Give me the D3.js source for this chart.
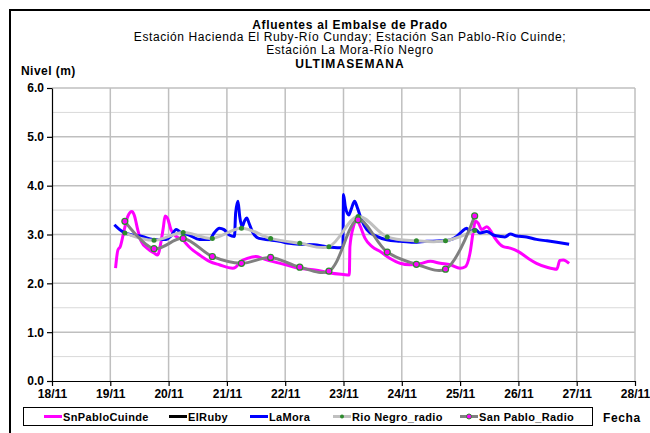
<!DOCTYPE html>
<html>
<head>
<meta charset="utf-8">
<script src="https://cdn.jsdelivr.net/npm/d3@7"></script>
<style>
  body { margin: 0; background: #fff; }
  text { font-family: "Liberation Sans", Arial, sans-serif; }
</style>
</head>
<body>
<script>
// data: x = day of November (decimal), y = level (m)
var dayTicks = [18, 19, 20, 21, 22, 23, 24, 25, 26, 27, 28];
var levelTicks = [0, 1, 2, 3, 4, 5, 6];

var snPabloCuinde = [
  [19.09,2.31],[19.13,2.68],[19.17,2.75],[19.24,3.10],[19.30,3.37],[19.37,3.47],[19.41,3.40],
  [19.47,3.10],[19.53,2.86],[19.65,2.70],[19.75,2.62],[19.81,2.58],[19.87,2.85],[19.91,3.15],
  [19.94,3.38],[19.98,3.34],[20.04,3.10],[20.13,2.96],[20.24,2.89],[20.35,2.75],[20.53,2.58],
  [20.70,2.45],[20.87,2.38],[21.10,2.31],[21.15,2.33],[21.24,2.45],[21.35,2.51],[21.50,2.55],
  [21.61,2.51],[21.78,2.45],[22.01,2.38],[22.24,2.31],[22.54,2.27],[22.77,2.21],[23.00,2.18],
  [23.10,2.17],[23.11,2.75],[23.17,3.16],[23.23,3.30],[23.29,3.16],[23.37,2.92],[23.49,2.75],
  [23.63,2.65],[23.80,2.51],[23.97,2.41],[24.14,2.38],[24.31,2.40],[24.49,2.45],[24.66,2.41],
  [24.83,2.38],[25.00,2.31],[25.09,2.34],[25.17,2.62],[25.23,3.10],[25.26,3.27],[25.31,3.23],
  [25.37,3.10],[25.46,3.16],[25.51,3.10],[25.60,2.92],[25.74,2.75],[25.86,2.72],[26.00,2.65],
  [26.17,2.51],[26.31,2.41],[26.49,2.33],[26.66,2.29],[26.71,2.47],[26.77,2.48],[26.87,2.41]
];
var elRuby = [];
var laMora = [
  [19.07,3.20],[19.15,3.11],[19.24,3.04],[19.38,2.99],[19.55,2.96],[19.73,2.90],[19.95,2.90],
  [20.05,2.98],[20.13,3.10],[20.21,3.04],[20.35,2.99],[20.53,2.90],[20.70,2.90],[20.78,3.03],
  [20.87,3.13],[20.95,3.10],[21.04,2.99],[21.13,2.96],[21.15,3.44],[21.19,3.68],[21.22,3.37],
  [21.26,3.16],[21.30,3.27],[21.34,3.34],[21.38,3.23],[21.44,3.05],[21.55,2.92],[21.73,2.89],
  [21.90,2.86],[22.07,2.82],[22.26,2.80],[22.49,2.79],[22.71,2.75],[22.94,2.73],[22.99,2.74],
  [23.00,3.82],[23.03,3.58],[23.09,3.40],[23.13,3.51],[23.19,3.68],[23.24,3.54],[23.31,3.30],
  [23.40,3.10],[23.57,2.96],[23.74,2.89],[23.97,2.86],[24.20,2.84],[24.43,2.86],[24.66,2.87],
  [24.83,2.89],[24.94,2.96],[25.03,3.06],[25.11,3.13],[25.17,3.06],[25.26,3.10],[25.34,3.03],
  [25.46,3.06],[25.57,2.99],[25.69,2.96],[25.77,2.95],[25.86,3.01],[25.97,2.97],[26.14,2.95],
  [26.31,2.90],[26.49,2.87],[26.66,2.84],[26.87,2.80]
];
var radioDays = [19.25, 19.75, 20.25, 20.75, 21.25, 21.75, 22.25, 22.75, 23.25, 23.75, 24.25, 24.75, 25.25];
var rioNegroRadio = [3.03, 2.88, 3.04, 2.92, 3.13, 2.92, 2.82, 2.75, 3.37, 2.95, 2.87, 2.87, 3.08];
var sanPabloRadio = [3.27, 2.71, 2.92, 2.55, 2.41, 2.53, 2.33, 2.25, 3.30, 2.64, 2.39, 2.29, 3.38];

var legendNames = ['SnPabloCuinde', 'ElRuby', 'LaMora', 'Rio Negro_radio', 'San Pablo_Radio'];

var width = 650, height = 433;
var plot = {left: 52, right: 635, top: 88, bottom: 381};

var svg = d3.select('body').append('svg')
  .attr('width', width)
  .attr('height', height);

svg.append('rect').attr('width', width).attr('height', height).attr('fill', '#fff');

// outer frame
svg.append('rect')
  .attr('x', 10).attr('y', 10)
  .attr('width', 700).attr('height', 500)
  .attr('fill', 'none').attr('stroke', '#000').attr('stroke-width', 2);

var x = d3.scaleLinear().domain([18, 28]).range([plot.left, plot.right]);
var y = d3.scaleLinear().domain([0, 6]).range([plot.bottom, plot.top]);

// gridlines
var minor = d3.range(0.5, 6, 1);
svg.append('g').selectAll('line').data(minor)
  .enter().append('line')
  .attr('x1', plot.left).attr('x2', plot.right)
  .attr('y1', function(d){ return y(d); }).attr('y2', function(d){ return y(d); })
  .attr('stroke', '#d9d9d9').attr('stroke-width', 1);
svg.append('g').selectAll('line').data(levelTicks.slice(1))
  .enter().append('line')
  .attr('x1', plot.left).attr('x2', plot.right)
  .attr('y1', function(d){ return y(d); }).attr('y2', function(d){ return y(d); })
  .attr('stroke', '#bfbfbf').attr('stroke-width', 1.5);
svg.append('g').selectAll('line').data(dayTicks.slice(1))
  .enter().append('line')
  .attr('x1', function(d){ return x(d); }).attr('x2', function(d){ return x(d); })
  .attr('y1', plot.top).attr('y2', plot.bottom)
  .attr('stroke', '#bfbfbf').attr('stroke-width', 1.5);

// axes
var yAxis = svg.append('g')
  .attr('transform', 'translate(' + plot.left + ',0)')
  .call(d3.axisLeft(y).tickValues(levelTicks).tickFormat(d3.format('.1f')).tickSize(5).tickSizeOuter(0));
var xAxis = svg.append('g')
  .attr('transform', 'translate(0,' + plot.bottom + ')')
  .call(d3.axisBottom(x).tickValues(dayTicks).tickFormat(function(d){ return d + '/11'; }).tickSize(5).tickSizeOuter(0));
[yAxis, xAxis].forEach(function(a){
  a.selectAll('text').attr('font-size', 12).attr('font-weight', 'bold')
    .attr('font-family', '"Liberation Sans", Arial, sans-serif').attr('fill', '#000');
  a.selectAll('line, path').attr('stroke', '#000').attr('stroke-width', 1.2);
});

// series lines
var line = d3.line()
  .x(function(d){ return x(d[0]); })
  .y(function(d){ return y(d[1]); });

var series = [
  {data: snPabloCuinde, color: '#ff00ff', curve: d3.curveMonotoneX},
  {data: elRuby, color: '#000000', curve: d3.curveMonotoneX},
  {data: laMora, color: '#0000ff', curve: d3.curveMonotoneX},
  {data: radioDays.map(function(d, i){ return [d, rioNegroRadio[i]]; }), color: '#c0c0c0', curve: d3.curveCatmullRom.alpha(0.5)},
  {data: radioDays.map(function(d, i){ return [d, sanPabloRadio[i]]; }), color: '#808080', curve: d3.curveCatmullRom.alpha(0.5)}
];

series.forEach(function(s){
  if (!s.data.length) return;
  svg.append('path')
    .attr('d', line.curve(s.curve)(s.data))
    .attr('fill', 'none')
    .attr('stroke', s.color)
    .attr('stroke-width', 3)
    .attr('stroke-linejoin', 'round');
});

// markers
svg.append('g').selectAll('circle').data(series[3].data)
  .enter().append('circle')
  .attr('cx', function(d){ return x(d[0]); }).attr('cy', function(d){ return y(d[1]); })
  .attr('r', 2.5).attr('fill', '#2e8b2e');
svg.append('g').selectAll('circle').data(series[4].data)
  .enter().append('circle')
  .attr('cx', function(d){ return x(d[0]); }).attr('cy', function(d){ return y(d[1]); })
  .attr('r', 3).attr('fill', '#ff00ff').attr('stroke', '#2e8b2e').attr('stroke-width', 1.2);

// titles
var titles = [
  {t: 'Afluentes al Embalse de Prado', y: 28.5, b: true, ls: 0.7},
  {t: 'Estación Hacienda El Ruby-Río Cunday; Estación San Pablo-Río Cuinde;', y: 41, b: false, ls: 0.6},
  {t: 'Estación La Mora-Río Negro', y: 54, b: false, ls: 0.6},
  {t: 'ULTIMASEMANA', y: 68, b: true, ls: 1.1}
];
svg.append('g').selectAll('text').data(titles)
  .enter().append('text')
  .attr('x', 350).attr('y', function(d){ return d.y; })
  .attr('text-anchor', 'middle')
  .attr('font-size', 12)
  .attr('letter-spacing', function(d){ return d.ls; })
  .attr('font-weight', function(d){ return d.b ? 'bold' : 'normal'; })
  .text(function(d){ return d.t; });

svg.append('text').attr('x', 21).attr('y', 75)
  .attr('font-size', 12).attr('letter-spacing', 0.45).attr('font-weight', 'bold').text('Nivel (m)');
svg.append('text').attr('x', 603).attr('y', 422)
  .attr('font-size', 12).attr('letter-spacing', 0.6).attr('font-weight', 'bold').text('Fecha');

// legend
var legendX = [44, 169, 250, 333, 460];
var lg = svg.append('g');
lg.append('rect').attr('x', 23.5).attr('y', 407.5).attr('width', 569).attr('height', 18)
  .attr('fill', '#fff').attr('stroke', '#000').attr('stroke-width', 1);
legendNames.forEach(function(n, i){
  var lx = legendX[i], ly = 416.5;
  lg.append('line').attr('x1', lx).attr('x2', lx + 18).attr('y1', ly).attr('y2', ly)
    .attr('stroke', series[i].color).attr('stroke-width', 3);
  if (i === 3) {
    lg.append('circle').attr('cx', lx + 9).attr('cy', ly).attr('r', 2).attr('fill', '#2e8b2e');
  }
  if (i === 4) {
    lg.append('circle').attr('cx', lx + 9).attr('cy', ly).attr('r', 2.5)
      .attr('fill', '#ff00ff').attr('stroke', '#2e8b2e').attr('stroke-width', 1);
  }
  lg.append('text').attr('x', lx + 19).attr('y', ly + 4)
    .attr('font-size', 11).attr('letter-spacing', 0.35).attr('font-weight', 'bold').text(n);
});
</script>
</body>
</html>
